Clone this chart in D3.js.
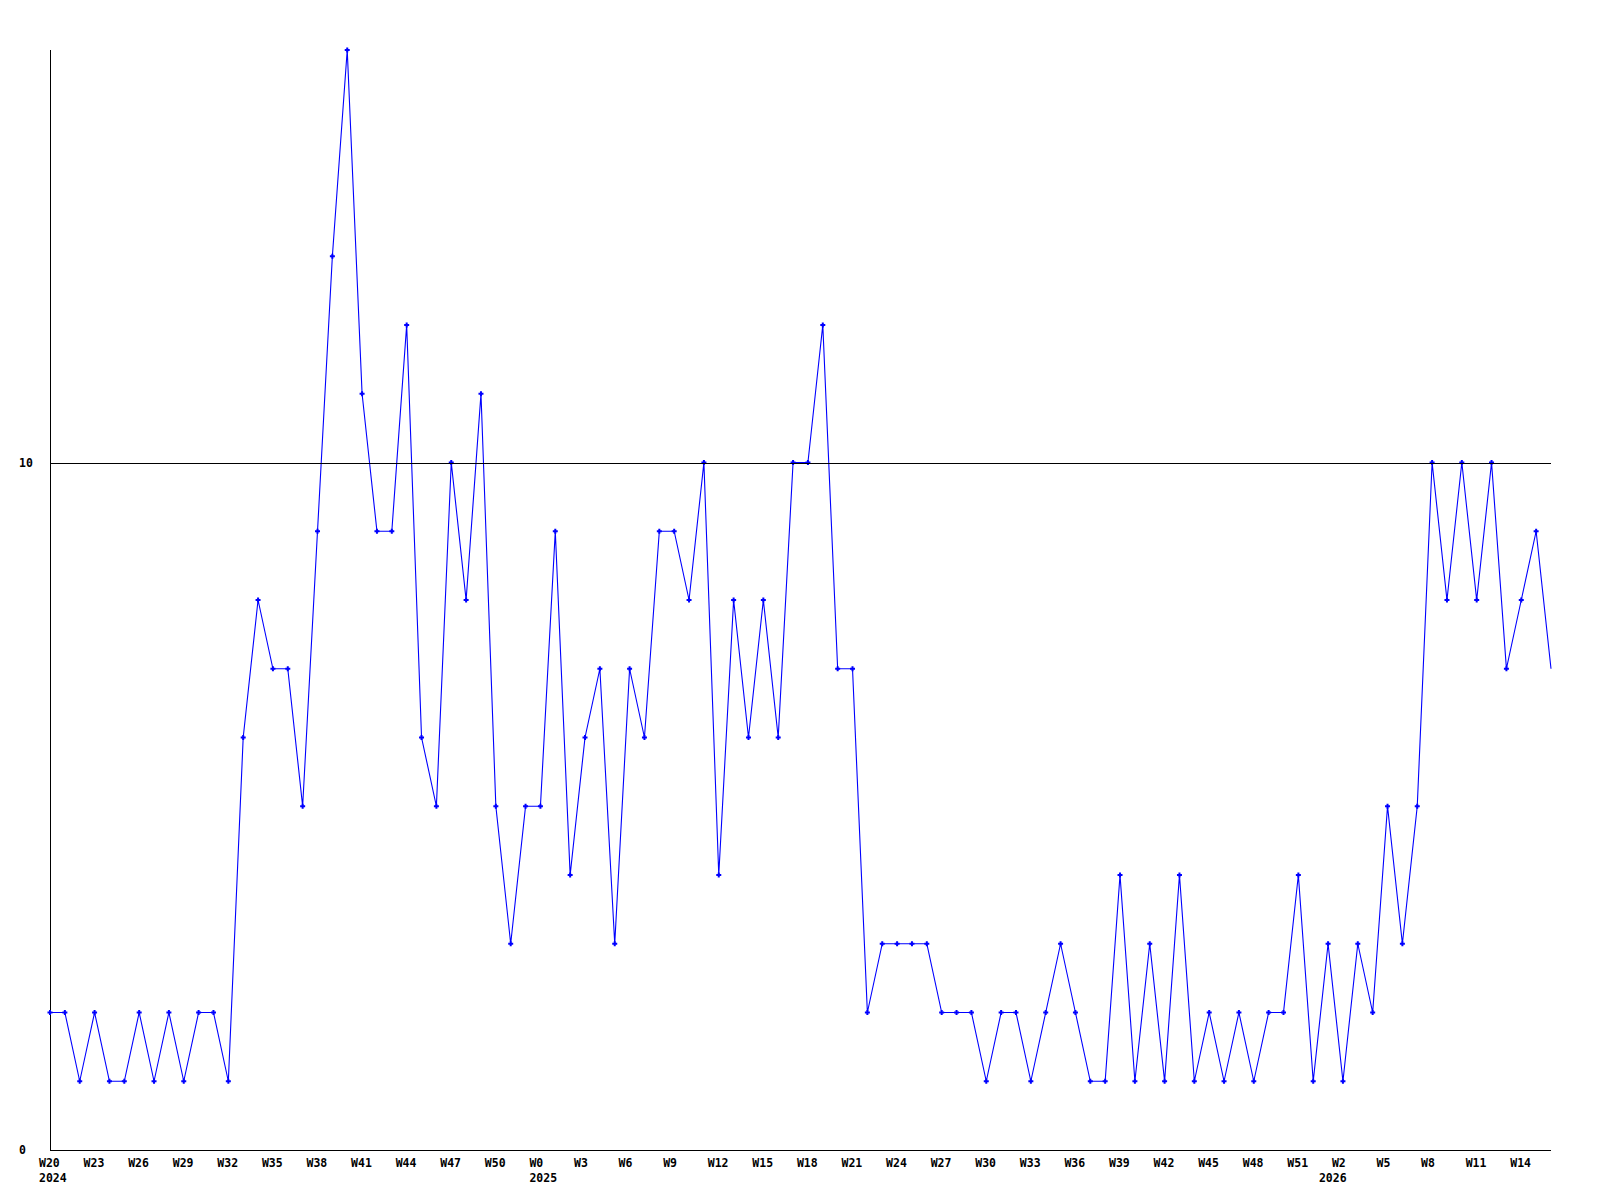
<!DOCTYPE html>
<html>
<head>
<meta charset="utf-8">
<script src="https://cdn.jsdelivr.net/npm/d3@7"></script>
<style>
  html, body { margin: 0; padding: 0; background: #ffffff; }
  svg { display: block; }
  text { font-family: "DejaVu Sans Mono", "Liberation Mono", monospace; font-weight: bold; font-size: 11.5px; fill: #000; }
</style>
</head>
<body>
<svg id="chart" width="1600" height="1200"></svg>
<script>
// Weekly values, 2024 W20 … 2026 (102 weeks)
const values = [
  2, 2, 1, 2, 1, 1, 2, 1, 2, 1, 2, 2, 1, 6, 8, 7, 7, 5, 9, 13,
  16, 11, 9, 9, 12, 6, 5, 10, 8, 11, 5, 3, 5, 5, 9, 4, 6, 7, 3, 7,
  6, 9, 9, 8, 10, 4, 8, 6, 8, 6, 10, 10, 12, 7, 7, 2, 3, 3, 3, 3,
  2, 2, 2, 1, 2, 2, 1, 2, 3, 2, 1, 1, 4, 1, 3, 1, 4, 1, 2, 1,
  2, 1, 2, 2, 4, 1, 3, 1, 3, 2, 5, 3, 5, 10, 8, 10, 8, 10, 7, 8,
  9, 7
];
// Tick labels: every third week
const tickLabels = [
  "W20","W23","W26","W29","W32","W35","W38","W41","W44","W47","W50",
  "W0","W3","W6","W9","W12","W15","W18","W21","W24","W27","W30","W33","W36","W39","W42","W45","W48","W51",
  "W2","W5","W8","W11","W14"
];
const tickStep = 3;
const yearTickIndex = [0, 11, 29];
const yearLabels = ["2024", "2025", "2026"];
const yTicks = [0, 10];
const gridValues = [10];
const yMax = 16;

const svg = d3.select("#chart");
const mLeft = 50, mRight = 1551, mTop = 50, mBottom = 1150;

const x = d3.scaleLinear().domain([0, values.length - 1]).range([mLeft, mRight]);
const y = d3.scaleLinear().domain([0, yMax]).range([mBottom, mTop]);

// axes lines
svg.append("line")
  .attr("x1", mLeft + 0.5).attr("x2", mLeft + 0.5)
  .attr("y1", y(yMax)).attr("y2", y(0))
  .attr("stroke", "#000").attr("stroke-width", 1).attr("shape-rendering", "crispEdges");
svg.append("line")
  .attr("x1", mLeft).attr("x2", mRight)
  .attr("y1", y(0) + 0.5).attr("y2", y(0) + 0.5)
  .attr("stroke", "#000").attr("stroke-width", 1).attr("shape-rendering", "crispEdges");

// data line
const line = d3.line().x((d, i) => x(i)).y(d => y(d));
svg.append("path")
  .datum(values)
  .attr("d", line)
  .attr("fill", "none")
  .attr("stroke", "#0000ff")
  .attr("stroke-width", 1.1);

// markers (not on last point)
const plus = "M-1,-2.5H1V-1H2.5V1H1V2.5H-1V1H-2.5V-1H-1Z";
svg.append("g").selectAll("path")
  .data(values.slice(0, values.length - 1))
  .join("path")
  .attr("d", plus)
  .attr("transform", (d, i) => `translate(${x(i)},${y(d)})`)
  .attr("fill", "#0000ff");

// grid line(s)
svg.append("g").selectAll("line")
  .data(gridValues)
  .join("line")
  .attr("x1", mLeft).attr("x2", mRight)
  .attr("y1", d => Math.round(y(d)) + 0.5).attr("y2", d => Math.round(y(d)) + 0.5)
  .attr("stroke", "#000").attr("stroke-width", 1).attr("shape-rendering", "crispEdges");

// y labels
svg.append("g").selectAll("text")
  .data(yTicks)
  .join("text")
  .attr("x", 19)
  .attr("y", d => y(d))
  .attr("dy", "0.35em")
  .text(d => d);

// x labels
svg.append("g").selectAll("text")
  .data(tickLabels)
  .join("text")
  .attr("x", (d, i) => x(i * tickStep) - 11)
  .attr("y", mBottom + 17)
  .text(d => d);

svg.append("g").selectAll("text")
  .data(yearLabels)
  .join("text")
  .attr("x", (d, i) => x(yearTickIndex[i] * tickStep) - (i === 2 ? 24 : 11))
  .attr("y", mBottom + 32)
  .text(d => d);
</script>
</body>
</html>
